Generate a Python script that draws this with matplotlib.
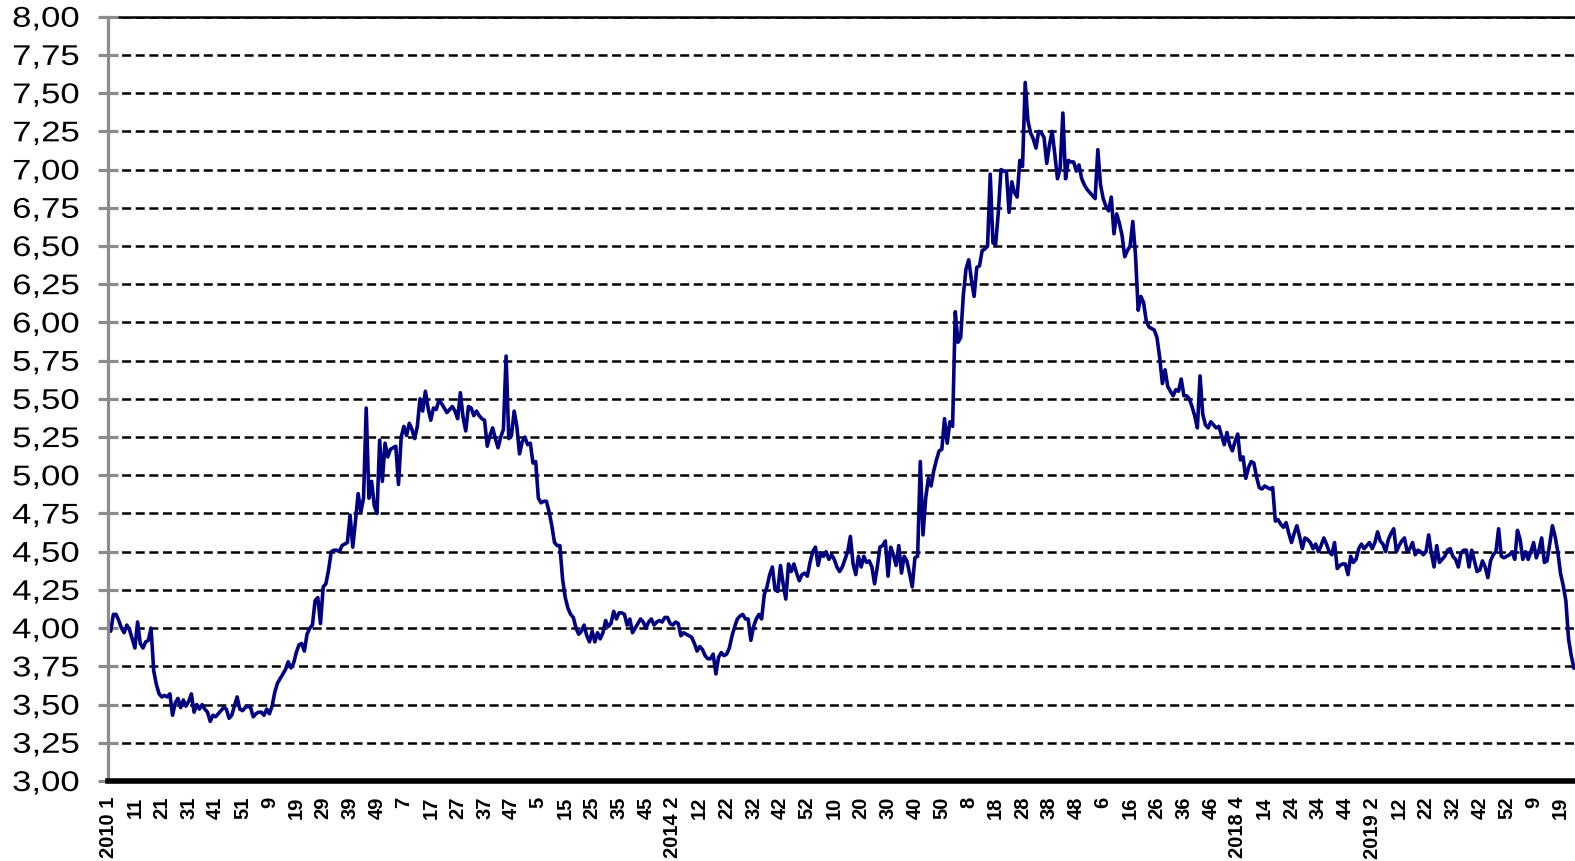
import matplotlib
matplotlib.use('Agg')
import matplotlib.pyplot as plt
from matplotlib import patheffects
from matplotlib.transforms import Affine2D

plt.rcParams['font.family'] = ['Liberation Sans', 'DejaVu Sans']
plt.rcParams['lines.scale_dashes'] = False

# weekly price, 2010 week 1 .. 2020 week ~24 (one row = 10 weeks)
prices = [
    4.00, 3.98, 4.09, 4.09, 4.05, 4.00, 3.97, 4.02, 3.99, 3.93,
    3.87, 4.04, 3.90, 3.87, 3.91, 3.92, 4.00, 3.72, 3.63, 3.57,
    3.55, 3.56, 3.55, 3.57, 3.43, 3.51, 3.54, 3.48, 3.53, 3.49,
    3.52, 3.57, 3.45, 3.50, 3.47, 3.50, 3.47, 3.45, 3.39, 3.43,
    3.42, 3.44, 3.46, 3.48, 3.47, 3.41, 3.43, 3.49, 3.55, 3.47,
    3.46, 3.48, 3.49, 3.48, 3.42, 3.44, 3.45, 3.45, 3.43, 3.47,
    3.44, 3.49, 3.58, 3.64, 3.67, 3.70, 3.73, 3.78, 3.74, 3.77,
    3.84, 3.89, 3.90, 3.85, 3.96, 4.00, 4.02, 4.18, 4.20, 4.03,
    4.27, 4.29, 4.38, 4.50, 4.51, 4.51, 4.50, 4.54, 4.55, 4.56,
    4.74, 4.53, 4.70, 4.88, 4.76, 4.85, 5.44, 4.85, 4.96, 4.80,
    4.75, 5.23, 4.96, 5.21, 5.12, 5.17, 5.18, 5.19, 4.94, 5.25,
    5.32, 5.26, 5.34, 5.30, 5.24, 5.32, 5.50, 5.42, 5.55, 5.44,
    5.36, 5.44, 5.43, 5.49, 5.47, 5.44, 5.41, 5.43, 5.45, 5.42,
    5.37, 5.54, 5.38, 5.29, 5.45, 5.44, 5.39, 5.42, 5.39, 5.37,
    5.36, 5.19, 5.26, 5.31, 5.24, 5.18, 5.25, 5.30, 5.78, 5.24,
    5.26, 5.42, 5.32, 5.14, 5.22, 5.25, 5.20, 5.21, 5.08, 5.09,
    4.85, 4.82, 4.83, 4.83, 4.76, 4.67, 4.56, 4.54, 4.54, 4.32,
    4.20, 4.13, 4.09, 4.07, 4.00, 3.96, 3.98, 4.02, 3.95, 3.91,
    3.98, 3.91, 3.97, 3.93, 3.97, 4.05, 4.01, 4.03, 4.11, 4.06,
    4.10, 4.10, 4.09, 4.02, 4.06, 3.97, 4.00, 4.03, 4.06, 4.04,
    4.00, 4.04, 4.06, 4.02, 4.04, 4.05, 4.04, 4.07, 4.07, 4.03,
    4.02, 4.04, 4.03, 3.95, 3.97, 3.96, 3.95, 3.94, 3.90, 3.85,
    3.88, 3.86, 3.82, 3.80, 3.80, 3.83, 3.70, 3.81, 3.84, 3.82,
    3.83, 3.87, 3.95, 4.01, 4.06, 4.08, 4.09, 4.06, 4.06, 3.92,
    4.01, 4.06, 4.09, 4.06, 4.22, 4.27, 4.35, 4.40, 4.25, 4.24,
    4.41, 4.29, 4.19, 4.42, 4.37, 4.42, 4.36, 4.31, 4.35, 4.36,
    4.34, 4.43, 4.50, 4.53, 4.41, 4.49, 4.47, 4.50, 4.45, 4.48,
    4.45, 4.40, 4.37, 4.40, 4.45, 4.50, 4.60, 4.42, 4.35, 4.47,
    4.40, 4.47, 4.43, 4.44, 4.40, 4.29, 4.40, 4.53, 4.54, 4.57,
    4.34, 4.53, 4.48, 4.41, 4.54, 4.36, 4.47, 4.44, 4.36, 4.27,
    4.46, 4.47, 5.09, 4.61, 4.85, 4.98, 4.93, 5.03, 5.10, 5.16,
    5.17, 5.37, 5.21, 5.35, 5.32, 6.07, 5.87, 5.90, 6.18, 6.35,
    6.41, 6.28, 6.17, 6.36, 6.37, 6.47, 6.48, 6.50, 6.97, 6.52,
    6.51, 6.72, 7.00, 6.99, 6.99, 6.72, 6.92, 6.85, 6.82, 7.06,
    7.02, 7.57, 7.32, 7.24, 7.20, 7.14, 7.25, 7.24, 7.21, 7.04,
    7.16, 7.25, 7.10, 6.94, 7.01, 7.37, 6.94, 7.06, 7.05, 7.05,
    6.99, 7.03, 6.94, 6.90, 6.87, 6.85, 6.83, 6.81, 7.13, 6.90,
    6.81, 6.76, 6.73, 6.82, 6.58, 6.71, 6.65, 6.57, 6.43, 6.47,
    6.50, 6.66, 6.44, 6.08, 6.17, 6.13, 6.01, 5.97, 5.96, 5.95,
    5.90, 5.77, 5.60, 5.69, 5.58, 5.55, 5.52, 5.56, 5.55, 5.63,
    5.52, 5.52, 5.50, 5.45, 5.39, 5.31, 5.65, 5.40, 5.33, 5.31,
    5.35, 5.33, 5.31, 5.32, 5.26, 5.20, 5.28, 5.20, 5.16, 5.22,
    5.27, 5.10, 5.12, 4.98, 5.05, 5.09, 5.08, 4.99, 4.92, 4.91,
    4.93, 4.92, 4.91, 4.92, 4.70, 4.71, 4.68, 4.66, 4.69, 4.62,
    4.56, 4.62, 4.67, 4.60, 4.52, 4.59, 4.58, 4.56, 4.52, 4.55,
    4.50, 4.54, 4.59, 4.55, 4.50, 4.48, 4.56, 4.39, 4.41, 4.42,
    4.42, 4.35, 4.47, 4.43, 4.45, 4.52, 4.55, 4.52, 4.54, 4.56,
    4.52, 4.56, 4.63, 4.57, 4.55, 4.50, 4.58, 4.62, 4.65, 4.50,
    4.54, 4.57, 4.59, 4.50, 4.52, 4.56, 4.48, 4.51, 4.50, 4.48,
    4.50, 4.61, 4.49, 4.40, 4.54, 4.43, 4.45, 4.47, 4.51, 4.52,
    4.47, 4.45, 4.40, 4.49, 4.51, 4.51, 4.40, 4.51, 4.44, 4.37,
    4.38, 4.44, 4.40, 4.33, 4.44, 4.48, 4.50, 4.65, 4.47, 4.46,
    4.47, 4.48, 4.50, 4.45, 4.64, 4.58, 4.45, 4.50, 4.45, 4.50,
    4.56, 4.46, 4.51, 4.59, 4.43, 4.44, 4.55, 4.67, 4.60, 4.50,
    4.36, 4.28, 4.18, 3.93, 3.82, 3.74,
]

# category labels, one every 10 weeks
tick_labels = [
    '2010 1', '11', '21', '31', '41', '51', '9', '19', '29', '39',
    '49', '7', '17', '27', '37', '47', '5', '15', '25', '35',
    '45', '2014 2', '12', '22', '32', '42', '52', '10', '20', '30',
    '40', '50', '8', '18', '28', '38', '48', '6', '16', '26',
    '36', '46', '2018 4', '14', '24', '34', '44', '2019 2', '12', '22',
    '32', '42', '52', '9', '19',
]

y_ticks = [3.00, 3.25, 3.50, 3.75, 4.00, 4.25, 4.50, 4.75, 5.00, 5.25,
           5.50, 5.75, 6.00, 6.25, 6.50, 6.75, 7.00, 7.25, 7.50, 7.75, 8.00]


class WideText(patheffects.AbstractPathEffect):
    # stretch glyphs along the text direction, right end stays put
    def __init__(self, sx):
        super().__init__()
        self.sx = sx

    def draw_path(self, renderer, gc, tpath, affine, rgbFace=None):
        x1 = tpath.get_extents().x1
        stretch = Affine2D().translate(-x1, 0).scale(self.sx, 1).translate(x1, 0)
        renderer.draw_path(gc, tpath, stretch + affine, rgbFace)


fig = plt.figure(figsize=(15.75, 8.61), dpi=100)
ax = fig.add_axes([108 / 1575, 80 / 861, 1467 / 1575, 764.3 / 861])

ax.plot(range(len(prices)), prices, color='#000080', lw=2.6)

ax.set_xlim(0, 545.4)
ax.set_ylim(3, 8)

ax.set_yticks(y_ticks)
ax.set_yticklabels(['{:.2f}'.format(v).replace('.', ',') for v in y_ticks])
ax.yaxis.grid(True, color='black', lw=1.8, linestyle=(0, (6.5, 3.3)))
ax.set_axisbelow(True)
ax.tick_params(axis='y', direction='inout', length=15, width=2.3,
               color='#8c8c8c', pad=13, labelsize=20.5)

ax.set_xticks(range(0, 10 * len(tick_labels), 10))
ax.set_xticklabels(tick_labels, rotation=90, fontweight='bold', fontsize=14.5,
                   va='top', ha='center')
ax.tick_params(axis='x', length=0, pad=11.5)

ax.spines['right'].set_visible(False)
ax.spines['top'].set_color('black')
ax.spines['top'].set_linewidth(1.8)
ax.spines['top'].set_zorder(0.4)
ax.spines['left'].set_color('#8c8c8c')
ax.spines['left'].set_linewidth(2.3)
ax.spines['bottom'].set_color('black')
ax.spines['bottom'].set_linewidth(4)

for lab in ax.get_yticklabels():
    lab.set_path_effects([WideText(1.22)])

fig.savefig('out.png', dpi=100)
